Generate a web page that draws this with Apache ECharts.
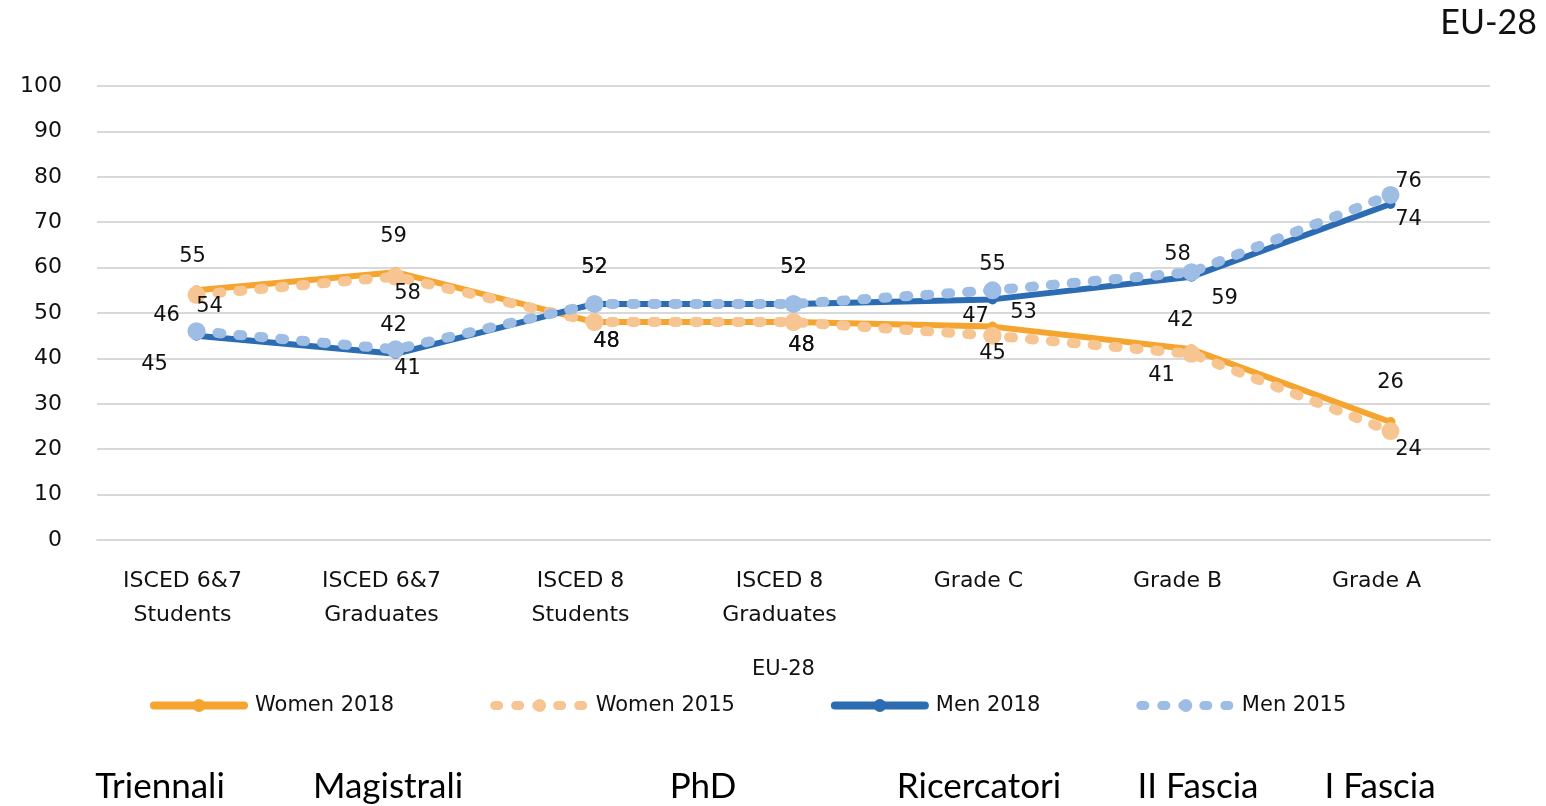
<!DOCTYPE html>
<html>
<head>
<meta charset="utf-8">
<title>EU-28</title>
<script src="https://cdn.jsdelivr.net/npm/echarts@6/dist/echarts.min.js"></script>
<style>
  html, body { margin: 0; padding: 0; background: #fff; }
  #chart { width: 1546px; height: 806px; }
</style>
</head>
<body>
<div id="chart"></div>
<script>
// data
var categories = ['ISCED 6&7\nStudents', 'ISCED 6&7\nGraduates', 'ISCED 8\nStudents', 'ISCED 8\nGraduates', 'Grade C', 'Grade B', 'Grade A'];
var women2018 = [55, 59, 48, 48, 47, 42, 26];
var women2015 = [54, 58, 48, 48, 45, 41, 24];
var men2018 = [45, 41, 52, 52, 53, 58, 74];
var men2015 = [46, 42, 52, 52, 55, 59, 76];
var italianLabels = ['Triennali', 'Magistrali', 'PhD', 'Ricercatori', 'II Fascia', 'I Fascia'];

// label offsets (px) from each point, per series
var offW18 = [[-4, -34], [-2, -36], [12, 19], [8, 23], [-17, -10], [-11, -29], [0, -39]];
var offW15 = [[13, 12], [12, 17], [12, 19], [8, 23], [0, 18], [-30, 22], [18, 19]];
var offM18 = [[-42, 29], [12, 15], [0, -36], [0, -36], [31, 13], [-14, -22], [18, 16]];
var offM15 = [[-30, -16], [-2, -24], [0, -36], [0, -36], [0, -26], [33, 26], [18, -13]];
var italianX = [160, 388, 703, 979, 1198, 1380];

var FONT = 'DejaVu Sans';
var INK = '#111';

function withLabels(values, offs) {
  return values.map(function (v, i) {
    return {
      value: v,
      label: { show: true, position: 'inside', offset: offs[i] }
    };
  });
}

function lineSeries(name, values, offs, color, width, dash, symSize) {
  return {
    name: name,
    type: 'line',
    data: withLabels(values, offs),
    symbol: 'circle',
    symbolSize: symSize,
    showAllSymbol: true,
    itemStyle: { color: color },
    lineStyle: { color: color, width: width, type: dash, cap: 'round' },
    label: { color: INK, fontFamily: FONT, fontSize: 21 },
    emphasis: { disabled: true }
  };
}

var chart = echarts.init(document.getElementById('chart'));

var option = {
  animation: false,
  backgroundColor: '#fff',
  textStyle: { fontFamily: FONT },
  grid: { left: 97, right: 56, top: 86, bottom: 266 },
  legend: {
    left: 145,
    top: 690,
    itemWidth: 90,
    itemHeight: 16,
    itemGap: 96,
    textStyle: { fontFamily: FONT, fontSize: 21, color: INK, padding: [0, 0, 0, 6] },
    data: [
      { name: 'Women 2018', lineStyle: { width: 8 } },
      { name: 'Women 2015', lineStyle: { width: 9 } },
      { name: 'Men 2018', lineStyle: { width: 8 } },
      { name: 'Men 2015', lineStyle: { width: 9 } }
    ]
  },
  xAxis: {
    type: 'category',
    data: categories,
    axisLine: { lineStyle: { color: '#d9d9d9', width: 2 } },
    axisTick: { show: false },
    axisLabel: {
      fontFamily: FONT, fontSize: 22, color: INK,
      lineHeight: 34, margin: 24, interval: 0,
      padding: [0, 28, 0, 0]
    }
  },
  yAxis: {
    type: 'value',
    min: 0, max: 100, interval: 10,
    axisLine: { show: false },
    axisTick: { show: false },
    axisLabel: { fontFamily: FONT, fontSize: 22, color: INK, margin: 35 },
    splitLine: { lineStyle: { color: '#d9d9d9', width: 2 } }
  },
  graphic: [
    {
      type: 'text', right: 9, top: 6,
      style: { text: 'EU-28', font: '34px Lato', fill: INK }
    },
    {
      type: 'text', left: 752, top: 659,
      style: { text: 'EU-28', font: '21px "DejaVu Sans"', fill: INK }
    }
  ].concat(italianLabels.map(function (t, i) {
    return {
      type: 'text', x: italianX[i], y: 787,
      style: { text: t, font: '35px Lato', fill: '#000', textAlign: 'center', textVerticalAlign: 'middle' }
    };
  })),
  series: [
    lineSeries('Women 2018', women2018, offW18, '#F5A52F', 6, 'solid', 10),
    lineSeries('Women 2015', women2015, offW15, '#F7C592', 10, [4, 17], 18),
    lineSeries('Men 2018', men2018, offM18, '#2B6CB3', 6, 'solid', 10),
    lineSeries('Men 2015', men2015, offM15, '#9DBDE4', 10, [4, 17], 18)
  ]
};

chart.setOption(option);
</script>
</body>
</html>
